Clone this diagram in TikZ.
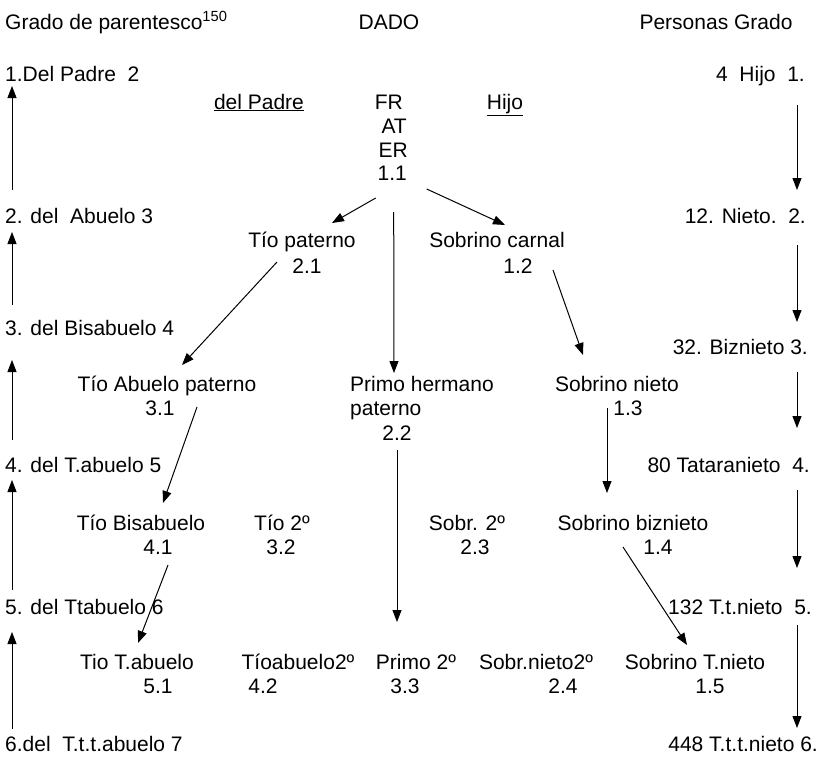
\documentclass[tikz,border=0pt]{standalone}
\usepackage{fontspec}
\setmainfont{Liberation Sans}
\usetikzlibrary{arrows.meta,calc}

\tikzset{
  txt/.style={inner sep=0pt,anchor=base},
  arr/.style={-{Triangle[length=12pt,width=9pt]},line width=1pt},
}

\begin{document}
\begin{tikzpicture}[x=1pt,y=-1pt,font=\fontsize{21}{24}\selectfont]
\useasboundingbox (0,0) rectangle (825,756);

% headings
\node[txt,anchor=base west] (grado) at (5,29) {Grado de parentesco\textsuperscript{150}};
\node[txt] (dado) at (389,29) {DADO};
\node[txt] (pers) at (716,29) {Personas Grado};

% left column
\node[txt,anchor=base west] (L1) at (5,81) {1.Del Padre\ \ 2};
\node[txt,anchor=base west] (L2) at (5,223) {2. del\ \ Abuelo 3};
\node[txt,anchor=base west] (L3) at (5,335) {3. del Bisabuelo 4};
\node[txt,anchor=base west] (L4) at (5,472) {4. del T.abuelo 5};
\node[txt,anchor=base west] (L5) at (5,614) {5. del Ttabuelo 6};
\node[txt,anchor=base west] (L6) at (5,751) {6.del\ \ T.t.t.abuelo 7};
\coordinate (lcol) at (12,0);

% right column
\node[txt,anchor=base east] (R1) at (805,81) {4\ \ Hijo\ \ 1.};
\node[txt,anchor=base east] (R2) at (806,223) {12. Nieto.\ \ 2.};
\node[txt,anchor=base east] (R3) at (808,354) {32. Biznieto 3.};
\node[txt,anchor=base east] (R4) at (810,472) {80 Tataranieto\ \ 4.};
\node[txt,anchor=base east] (R5) at (812,614) {132 T.t.nieto\ \ 5.};
\node[txt,anchor=base east] (R6) at (818,751) {448 T.t.t.nieto 6.};
\coordinate (rcol) at (797,0);

% centre
\node[txt] (dpad) at (259,109) {\underline{del Padre}};
\node[txt] (hijo) at (505,109) {\underline{Hijo}};
\node[txt,anchor=base east] (fr) at (403,109) {FR};
\node[txt,anchor=base east] (at) at (407,133) {AT};
\node[txt,anchor=base east] (er) at (408,157) {ER};
\node[txt,anchor=base east] (ego) at (407,180) {1.1};

\node[txt] (tp) at (302,247) {Tío paterno};
\node[txt] (n21) at (307,273) {2.1};
\node[txt] (sc) at (497,247) {Sobrino carnal};
\node[txt] (n12) at (518,273) {1.2};

\node[txt] (tap) at (167,391) {Tío Abuelo paterno};
\node[txt] (n31) at (160,415) {3.1};
\node[txt,anchor=base west] (ph) at (350,391) {Primo hermano};
\node[txt,anchor=base west] (ph2) at (350,415) {paterno};
\node[txt] (n22) at (397,440) {2.2};
\node[txt] (sn) at (617,391) {Sobrino nieto};
\node[txt] (n13) at (628,415) {1.3};

\node[txt] (tb) at (141,530) {Tío Bisabuelo};
\node[txt] (n41) at (158,554) {4.1};
\node[txt] (t2) at (282,530) {Tío 2º};
\node[txt] (n32) at (281,554) {3.2};
\node[txt] (s2) at (467,530) {Sobr. 2º};
\node[txt] (n23) at (475,554) {2.3};
\node[txt] (sb) at (633,530) {Sobrino biznieto};
\node[txt] (n14) at (658,554) {1.4};

\node[txt] (tt) at (137,669) {Tio T.abuelo};
\node[txt] (n51) at (158,693) {5.1};
\node[txt] (ta2) at (298,669) {Tíoabuelo2º};
\node[txt] (n42) at (263,693) {4.2};
\node[txt] (p2) at (416,669) {Primo 2º};
\node[txt] (n33) at (405,693) {3.3};
\node[txt] (sn2) at (536,669) {Sobr.nieto2º};
\node[txt] (n24) at (563,693) {2.4};
\node[txt] (st) at (695,669) {Sobrino T.nieto};
\node[txt] (n15) at (710,693) {1.5};

% ascendants
\draw[arr] ($(L2.base -| lcol)+(0,-33)$) -- ($(L1.base -| lcol)+(0,5)$);
\draw[arr] ($(L3.base -| lcol)+(0,-30)$) -- ($(L2.base -| lcol)+(0,9)$);
\draw[arr] ($(L4.base -| lcol)+(0,-32)$) -- ($(L3.base -| lcol)+(0,25)$);
\draw[arr] ($(L5.base -| lcol)+(0,-24)$) -- ($(L4.base -| lcol)+(0,8)$);
\draw[arr] ($(L6.base -| lcol)+(0,-22)$) -- ($(L5.base -| lcol)+(0,18)$);

% descendants
\draw[arr] ($(R1.base -| rcol)+(0,24)$) -- ($(R2.base -| rcol)+(0,-33)$);
\draw[arr] ($(R2.base -| rcol)+(0,22)$) -- ($(R3.base -| rcol)+(0,-32)$);
\draw[arr] ($(R3.base -| rcol)+(0,18)$) -- ($(R4.base -| rcol)+(0,-44)$);
\draw[arr] ($(R4.base -| rcol)+(0,18)$) -- ($(R5.base -| rcol)+(0,-46)$);
\draw[arr] ($(R5.base -| rcol)+(0,11)$) -- ($(R6.base -| rcol)+(0,-23)$);

% collaterals
\draw[arr] ($(ego.base)+(-16.5,18)$) -- ($(tp.base)+(30,-24)$);
\draw[arr] ($(ego.base)+(34.5,9)$) -- ($(sc.base)+(8,-22)$);
\draw[arr] ($(ego.base)+(1.5,32)$) -- ($(ph.base west)+(44,-18)$);
\draw[arr] ($(n21.base)+(-30,-11)$) -- ($(tap.base)+(15,-26)$);
\draw[arr] ($(n31.base)+(37,-8)$) -- ($(tb.base)+(22,-27)$);
\draw[arr] ($(n41.base)+(10,11)$) -- ($(tt.base)+(1,-26)$);
\draw[arr] ($(n22.base)+(0,10)$) -- ($(p2.base)+(-19,-47)$);
\draw[arr] ($(n12.base)+(35,-3)$) -- ($(sn.base)+(-34,-36)$);
\draw[arr] ($(n13.base)+(-21,-7)$) -- ($(sb.base)+(-26,-37)$);
\draw[arr] ($(n14.base)+(-35,-7)$) -- ($(st.base)+(-8,-24)$);
\end{tikzpicture}
\end{document}
